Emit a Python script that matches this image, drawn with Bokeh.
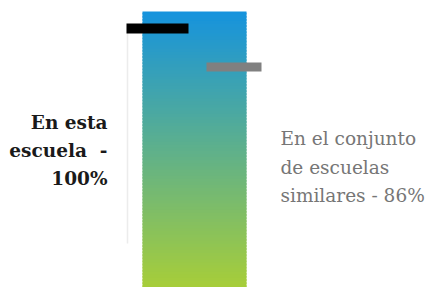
from bokeh.plotting import figure
from bokeh.models import Range1d, Label
from bokeh.embed import file_html
from bokeh.resources import INLINE

# data
school_label = ["En esta", "escuela \u00a0-", "100%"]
similar_label = ["En el conjunto", "de escuelas", "similares - 86%"]
school_value = 100
similar_value = 86
bar_top = 106.2

W, H = 433, 287
p = figure(width=W, height=H, output_backend="svg", toolbar_location=None,
           x_range=Range1d(0, W), y_range=Range1d(5.82, 110.18), min_border=0)
p.axis.visible = False
p.grid.visible = False
p.outline_line_color = None
p.background_fill_color = "white"
p.border_fill_color = "white"

# gradient bar (style: split into thin slices of interpolated colour)
top = (22, 147, 221)
bot = (168, 206, 56)
n = 90
y0 = p.y_range.start - 1
step = (bar_top - y0) / n
bottoms, tops, cols = [], [], []
for i in range(n):
    t = i / (n - 1)
    c = tuple(int(round(bot[j] + (top[j] - bot[j]) * t)) for j in range(3))
    bottoms.append(y0 + i * step)
    tops.append(min(y0 + (i + 1) * step + step * 0.6, bar_top))
    cols.append("#%02x%02x%02x" % c)
p.quad(left=142, right=246, bottom=bottoms, top=tops, fill_color=cols,
       line_color=None)

# thin axis line
p.segment(x0=[127], y0=[21.8], x1=[127], y1=[101.1], line_color="#ececec", line_width=1.5)

# markers
p.rect(x=[157], y=[school_value], width=62, height=10, height_units="screen",
       fill_color="black", line_color=None)
p.rect(x=[233.5], y=[similar_value], width=55, height=9, height_units="screen",
       fill_color="#808080", line_color=None)

font = "DejaVu Serif"
for i, s in enumerate(school_label):
    p.add_layout(Label(x=107, y=165 - 28 * i, x_units="screen", y_units="screen",
                       text=s, text_align="right", text_baseline="alphabetic",
                       text_font=font, text_font_size="18.5px", text_font_style="bold",
                       text_color="#1a1a1a"))
for i, s in enumerate(similar_label):
    p.add_layout(Label(x=280, y=149 - 28.5 * i, x_units="screen", y_units="screen",
                       text=s, text_align="left", text_baseline="alphabetic",
                       text_font=font, text_font_size="18.5px",
                       text_color="#767676"))

open("out.html", "w").write(file_html(p, INLINE))
